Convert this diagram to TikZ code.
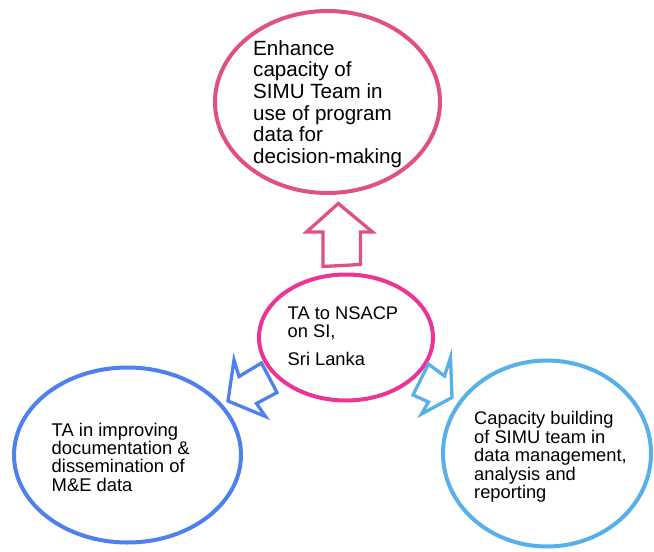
\documentclass[tikz,border=0pt]{standalone}
\usepackage{fontspec}
\setmainfont{Liberation Sans}
\usetikzlibrary{shapes.geometric}
\definecolor{cTop}{RGB}{224,82,124}
\definecolor{cMid}{RGB}{236,52,150}
\definecolor{cBlue}{RGB}{78,128,240}
\definecolor{cLight}{RGB}{88,176,232}
\begin{document}
\begin{tikzpicture}[x=1pt,y=-1pt,
  bubble/.style={ellipse, inner sep=0pt, line width=4pt, fill=white},
  txt/.style={anchor=north west, inner sep=0pt, align=left, text=black},
  fatarrow/.style={line width=3.3pt, line join=miter, fill=white}]
\useasboundingbox (0,0) rectangle (654,552);
\fill[white] (0,0) rectangle (654,552);
% ellipses
\node[bubble, draw=cTop, minimum width=225pt, minimum height=182pt] (top) at (327.5,102) {};
\node[bubble, draw=cMid, minimum width=174pt, minimum height=126pt] (mid) at (346,337.5) {};
\node[bubble, draw=cBlue, minimum width=227pt, minimum height=175pt] (left) at (127.5,455) {};
\node[bubble, draw=cLight, minimum width=208pt, minimum height=186pt] (right) at (547,453.5) {};
% block arrows
\draw[fatarrow, draw=cTop] (338.3,203.5) -- (372.5,232) -- (360.5,232) -- (360.5,264.5) -- (323,266.5) -- (323,232) -- (306.5,232) -- cycle;
\draw[fatarrow, draw=cBlue] (228,401) -- (234,360) -- (239,376.5) -- (261.5,363) -- (277,392.5) -- (256.5,403.5) -- (265.5,416.5) -- cycle;
\draw[fatarrow, draw=cLight] (452,397.5) -- (450.5,357.5) -- (444.5,376) -- (428.5,364) -- (413,395) -- (428.5,402) -- (421.5,414) -- cycle;
% texts
\node[txt, font=\fontsize{20.6}{21.7}\selectfont] (toptext) at (253,40)
  {Enhance\\capacity of\\SIMU Team in\\use of program\\data for\\decision-making};
\node[txt, font=\fontsize{18.3}{17.2}\selectfont] (midtext) at (287.5,307)
  {TA to NSACP\\on SI,\\[11pt]Sri Lanka};
\node[txt, font=\fontsize{18.4}{18.4}\selectfont] (lefttext) at (51.5,422.5)
  {TA in improving\\documentation \&\\dissemination of\\M\&E data};
\node[txt, font=\fontsize{18.3}{18.5}\selectfont] (righttext) at (474,411.5)
  {Capacity building\\of SIMU team in\\data management,\\analysis and\\reporting};
\end{tikzpicture}
\end{document}
